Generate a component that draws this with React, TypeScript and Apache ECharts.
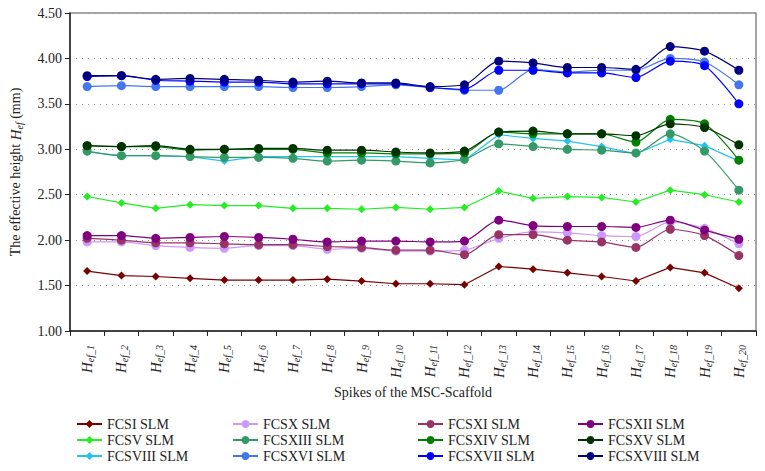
import React, { useEffect, useRef } from "react";
import * as echarts from "echarts";

const categories = Array.from({ length: 20 }, (_, i) => `ef_${i + 1}`);

const fcsI = [1.66, 1.61, 1.60, 1.58, 1.56, 1.56, 1.56, 1.57, 1.55, 1.52, 1.52, 1.51, 1.71, 1.68, 1.64, 1.60, 1.55, 1.70, 1.64, 1.47];
const fcsV = [2.48, 2.41, 2.35, 2.39, 2.38, 2.38, 2.35, 2.35, 2.34, 2.36, 2.34, 2.36, 2.54, 2.46, 2.48, 2.47, 2.42, 2.55, 2.50, 2.42];
const fcsVIII = [2.97, 2.93, 2.93, 2.92, 2.87, 2.92, 2.92, 2.92, 2.92, 2.92, 2.90, 2.88, 3.16, 3.12, 3.09, 3.03, 2.95, 3.11, 3.04, 2.87];
const fcsX = [1.98, 1.98, 1.94, 1.92, 1.91, 1.94, 1.94, 1.90, 1.91, 1.88, 1.88, 1.89, 2.02, 2.09, 2.08, 2.05, 2.04, 2.20, 2.13, 1.96];
const fcsXIII = [2.98, 2.93, 2.93, 2.92, 2.91, 2.91, 2.90, 2.87, 2.88, 2.87, 2.85, 2.89, 3.06, 3.03, 3.00, 2.99, 2.96, 3.17, 2.98, 2.55];
const fcsXVI = [3.69, 3.70, 3.69, 3.69, 3.69, 3.69, 3.68, 3.68, 3.69, 3.71, 3.68, 3.65, 3.65, 3.88, 3.85, 3.87, 3.87, 4.00, 3.96, 3.71];
const fcsXI = [2.02, 2.00, 1.97, 1.97, 1.96, 1.95, 1.95, 1.93, 1.92, 1.89, 1.89, 1.84, 2.06, 2.06, 2.00, 1.98, 1.92, 2.12, 2.05, 1.83];
const fcsXII = [2.05, 2.05, 2.02, 2.03, 2.04, 2.03, 2.01, 1.98, 1.99, 1.99, 1.98, 1.99, 2.22, 2.16, 2.15, 2.15, 2.14, 2.22, 2.11, 2.01];
const fcsXIV = [3.04, 3.03, 3.03, 2.99, 3.00, 3.00, 3.00, 2.96, 2.96, 2.95, 2.95, 2.96, 3.19, 3.17, 3.17, 3.17, 3.08, 3.33, 3.28, 2.88];
const fcsXV = [3.04, 3.03, 3.04, 3.00, 3.00, 3.01, 3.01, 2.99, 2.99, 2.97, 2.96, 2.98, 3.19, 3.20, 3.17, 3.17, 3.15, 3.28, 3.24, 3.05];
const fcsXVII = [3.80, 3.81, 3.76, 3.75, 3.74, 3.74, 3.72, 3.72, 3.72, 3.72, 3.68, 3.66, 3.87, 3.87, 3.84, 3.84, 3.79, 3.97, 3.92, 3.50];
const fcsXVIII = [3.81, 3.81, 3.77, 3.78, 3.77, 3.76, 3.74, 3.75, 3.73, 3.73, 3.69, 3.71, 3.97, 3.95, 3.90, 3.90, 3.88, 4.13, 4.08, 3.87];

const seriesDefs = [
  { name: "FCSI SLM", data: fcsI, color: "#7a0000", symbol: "diamond" },
  { name: "FCSV SLM", data: fcsV, color: "#22ee22", symbol: "diamond" },
  { name: "FCSVIII SLM", data: fcsVIII, color: "#22c4ee", symbol: "diamond" },
  { name: "FCSX SLM", data: fcsX, color: "#cc99ff", symbol: "circle" },
  { name: "FCSXIII SLM", data: fcsXIII, color: "#339966", symbol: "circle" },
  { name: "FCSXVI SLM", data: fcsXVI, color: "#4477ee", symbol: "circle" },
  { name: "FCSXI SLM", data: fcsXI, color: "#993366", symbol: "circle" },
  { name: "FCSXII SLM", data: fcsXII, color: "#800080", symbol: "circle" },
  { name: "FCSXIV SLM", data: fcsXIV, color: "#008000", symbol: "circle" },
  { name: "FCSXV SLM", data: fcsXV, color: "#003300", symbol: "circle" },
  { name: "FCSXVII SLM", data: fcsXVII, color: "#0000ff", symbol: "circle" },
  { name: "FCSXVIII SLM", data: fcsXVIII, color: "#000080", symbol: "circle" },
];

const legendColumns = [
  ["FCSI SLM", "FCSV SLM", "FCSVIII SLM"],
  ["FCSX SLM", "FCSXIII SLM", "FCSXVI SLM"],
  ["FCSXI SLM", "FCSXIV SLM", "FCSXVII SLM"],
  ["FCSXII SLM", "FCSXV SLM", "FCSXVIII SLM"],
];
const legendLefts = [76, 232, 417, 577];

const FONT = "Liberation Serif";

export default function App() {
  const ref = useRef<HTMLDivElement>(null);
  useEffect(() => {
    if (!ref.current) return;
    const chart = echarts.init(ref.current, undefined, { renderer: "svg" });
    chart.setOption({
      animation: false,
      backgroundColor: "#ffffff",
      textStyle: { fontFamily: FONT },
      grid: {
        left: 66,
        right: 9,
        top: 13,
        bottom: 140,
        show: true,
        borderColor: "#8a8a8a",
        borderWidth: 1.5,
      },
      legend: legendColumns.map((col, i) => ({
        orient: "vertical",
        left: legendLefts[i],
        top: 417,
        height: 54,
        padding: 0,
        data: col,
        itemWidth: 25,
        itemHeight: 10,
        itemGap: 2,
        textStyle: { fontFamily: FONT, fontSize: 14, color: "#222", lineHeight: 14 },
      })),
      xAxis: {
        type: "category",
        data: categories,
        boundaryGap: true,
        name: "Spikes of the MSC-Scaffold",
        nameLocation: "middle",
        nameGap: 54,
        nameTextStyle: { fontFamily: FONT, fontSize: 14, color: "#222" },
        axisLine: { lineStyle: { color: "#222", width: 1.5 } },
        axisTick: { show: true, length: 5, lineStyle: { color: "#222" } },
        axisLabel: {
          rotate: 90,
          interval: 0,
          margin: 14,
          formatter: (v: string) => `{i|H}{s|${v}}`,
          rich: {
            i: { fontFamily: FONT, fontStyle: "italic", fontSize: 15, color: "#222", lineHeight: 16 },
            s: { fontFamily: FONT, fontStyle: "italic", fontSize: 10, color: "#222", padding: [7, 0, 0, 0] },
          },
        },
      },
      yAxis: {
        type: "value",
        min: 1,
        max: 4.5,
        interval: 0.5,
        name: "{n|The effective height }{i|H}{s|ef}{n| (mm)}",
        nameLocation: "middle",
        nameGap: 46,
        nameRotate: 90,
        nameTextStyle: {
          rich: {
            n: { fontFamily: FONT, fontSize: 14, color: "#222" },
            i: { fontFamily: FONT, fontStyle: "italic", fontSize: 15, color: "#222" },
            s: { fontFamily: FONT, fontStyle: "italic", fontSize: 10, color: "#222", padding: [7, 0, 0, 0] },
          },
        },
        axisLine: { show: true, lineStyle: { color: "#222", width: 1.5 } },
        axisTick: { show: true, length: 5, lineStyle: { color: "#222" } },
        axisLabel: {
          fontFamily: FONT,
          fontSize: 14,
          color: "#222",
          formatter: (v: number) => v.toFixed(2),
        },
        splitLine: { show: true, lineStyle: { color: "#999", type: [1, 5], width: 1 } },
      },
      series: seriesDefs.map((s) => ({
        name: s.name,
        type: "line",
        data: s.data,
        symbol: s.symbol,
        symbolSize: s.symbol === "diamond" ? 8 : 9,
        smooth: s.symbol === "circle" ? 0.25 : false,
        color: s.color,
        lineStyle: { width: 1.2, color: s.color },
        itemStyle: { color: s.color },
      })),
    });
    return () => chart.dispose();
  }, []);
  return <div ref={ref} style={{ width: 765, height: 471, position: "absolute", left: 0, top: 0 }} />;
}
